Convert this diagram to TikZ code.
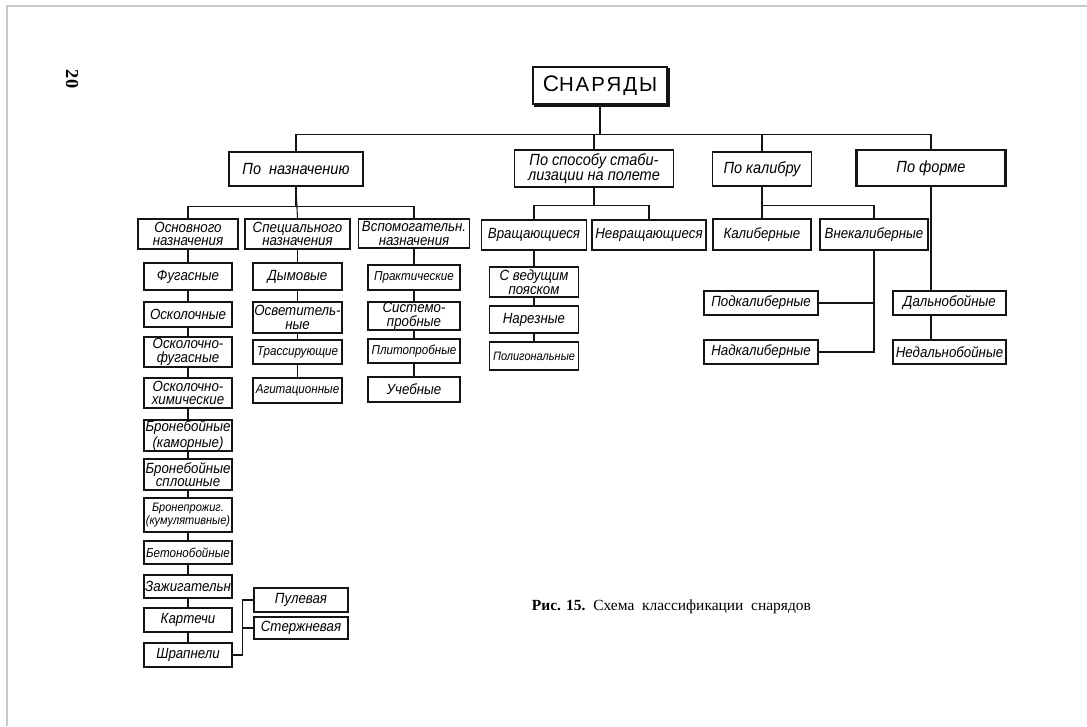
\documentclass[tikz,border=0pt]{standalone}
\usepackage{fontspec}
\setmainfont{Liberation Serif}
\newfontfamily\draftfont[FakeStretch=0.9]{Liberation Sans}
\newfontfamily\titlefont[LetterSpace=10]{Liberation Sans}
\usetikzlibrary{shadows}

\begin{document}
\begin{tikzpicture}[x=0.025cm,y=-0.025cm,
  box/.style 2 args={draw=inkcolor,line width=1.2pt,fill=white,inner sep=0.3pt,
    minimum width=#1*0.025cm,minimum height=#2*0.025cm,align=center,
    font=\draftfont\itshape\fontsize{10.5}{9.6}\selectfont},
  headbox/.style={font=\draftfont\itshape\fontsize{11.5}{10.8}\selectfont},
  smalltext/.style={font=\draftfont\itshape\fontsize{9.2}{9.6}\selectfont},
  tinytext/.style={font=\draftfont\itshape\fontsize{8.7}{9.4}\selectfont},
  link/.style={draw=inkcolor,line width=0.75pt}]
\definecolor{inkcolor}{RGB}{20,20,20}
\definecolor{framecolor}{RGB}{200,200,200}
\useasboundingbox (0,0) rectangle (1087,726);
\draw[framecolor,line width=1pt] (7,726) -- (7,6) -- (1087,6);
\node[rotate=-90,font=\bfseries\fontsize{13}{13}\selectfont] (pagenum) at (72,79) {20};
\node[box={134}{37},line width=1.5pt,copy shadow={shadow xshift=1.6pt,shadow yshift=-1.6pt},
  font=\titlefont\fontsize{16}{16}\selectfont] (snaryady) at (600,85.5) {С{\fontsize{14.5}{16}\selectfont НАРЯДЫ}};
\node[box={134}{34},headbox] (naznach) at (296,169) {По\ \ назначению};
\node[box={159}{37},headbox] (stabil) at (594,168.5) {По способу стаби-\\лизации на полете};
\node[box={99}{34},headbox] (kalibr) at (762,169) {По калибру};
\node[box={149}{36},headbox,line width=1.9pt] (forma) at (931,168) {По форме};
\node[box={100}{30}] (osnovn) at (188,234) {Основного\\назначения};
\node[box={105}{30}] (specn) at (297.5,234) {Специального\\назначения};
\node[box={111}{29}] (vspom) at (414,233.5) {Вспомогательн.\\назначения};
\node[box={88}{27}] (fugas) at (188,276.5) {Фугасные};
\node[box={88}{25}] (oskol) at (188,314.5) {Осколочные};
\node[box={88}{30}] (oskfug) at (188,352) {Осколочно-\\фугасные};
\node[box={88}{30}] (oskhim) at (188,393) {Осколочно-\\химические};
\node[box={88}{31}] (bronkam) at (188,435.5) {Бронебойные\\(каморные)};
\node[box={88}{31}] (bronspl) at (188,474.5) {Бронебойные\\сплошные};
\node[box={88}{34},tinytext] (bronkum) at (188,515) {Бронепрожиг.\\(кумулятивные)};
\node[box={88}{23},smalltext] (beton) at (188,552.5) {Бетонобойные};
\node[box={88}{23}] (zazhig) at (188,586.5) {Зажигательн};
\node[box={88}{24}] (kartech) at (188,620) {Картечи};
\node[box={88}{24}] (shrapn) at (188,655) {Шрапнели};
\node[box={94}{24}] (pulev) at (301,600) {Пулевая};
\node[box={94}{22}] (sterzh) at (301,628) {Стержневая};
\node[box={89}{27}] (dymov) at (297.5,276.5) {Дымовые};
\node[box={89}{31}] (osvet) at (297.5,317.5) {Осветитель-\\ные};
\node[box={89}{24},smalltext] (trass) at (297.5,352) {Трассирующие};
\node[box={89}{25},smalltext] (agitac) at (297.5,390.5) {Агитационные};
\node[box={92}{25},smalltext] (prakt) at (414,277.5) {Практические};
\node[box={92}{28}] (sistem) at (414,316) {Системо-\\пробные};
\node[box={92}{24},smalltext] (plitop) at (414,351) {Плитопробные};
\node[box={92}{25}] (ucheb) at (414,389.5) {Учебные};
\node[box={105}{30}] (vrashch) at (534,235) {Вращающиеся};
\node[box={114}{30}] (nevrashch) at (649,235) {Невращающиеся};
\node[box={89}{30}] (vedush) at (534,282) {С ведущим\\пояском};
\node[box={89}{27}] (narezn) at (534,319.5) {Нарезные};
\node[box={89}{28},tinytext] (poligon) at (534,356) {Полигональные};
\node[box={98}{31}] (kaliber) at (762,234.5) {Калиберные};
\node[box={108}{31}] (vnekal) at (874,234.5) {Внекалиберные};
\node[box={114}{24}] (podkal) at (761,303) {Подкалиберные};
\node[box={114}{24}] (nadkal) at (761,352) {Надкалиберные};
\node[box={113}{24}] (dalnob) at (949.5,303) {Дальнобойные};
\node[box={113}{24}] (nedalnob) at (949.5,352) {Недальнобойные};
\node[anchor=base west,font=\fontsize{11}{13}\selectfont] (caption) at (527,610) {\textbf{Рис. 15.}\ \ Схема\ \ классификации\ \ снарядов};
\draw[link] (snaryady.south) -- ++(0,29) -| (naznach.north);
\draw[link] (snaryady.south) -- ++(0,29) -| (stabil.north);
\draw[link] (snaryady.south) -- ++(0,29) -| (kalibr.north);
\draw[link] (snaryady.south) -- ++(0,29) -| (forma.north);
\draw[link] (naznach.south) -- ++(0,20) -| (osnovn.north);
\draw[link] (naznach.south) -- (specn.north);
\draw[link] (naznach.south) -- ++(0,20) -| (vspom.north);
\draw[link] (osnovn) -- (fugas);
\draw[link] (fugas) -- (oskol);
\draw[link] (oskol) -- (oskfug);
\draw[link] (oskfug) -- (oskhim);
\draw[link] (oskhim) -- (bronkam);
\draw[link] (bronkam) -- (bronspl);
\draw[link] (bronspl) -- (bronkum);
\draw[link] (bronkum) -- (beton);
\draw[link] (beton) -- (zazhig);
\draw[link] (zazhig) -- (kartech);
\draw[link] (kartech) -- (shrapn);
\draw[link] (shrapn.east) -- ++(10,0) |- (pulev.west);
\draw[link] (shrapn.east) -- ++(10,0) |- (sterzh.west);
\draw[link] (specn) -- (dymov);
\draw[link] (dymov) -- (osvet);
\draw[link] (osvet) -- (trass);
\draw[link] (trass) -- (agitac);
\draw[link] (vspom) -- (prakt);
\draw[link] (prakt) -- (sistem);
\draw[link] (sistem) -- (plitop);
\draw[link] (plitop) -- (ucheb);
\draw[link] (stabil.south) -- ++(0,18) -| (vrashch.north);
\draw[link] (stabil.south) -- ++(0,18) -| (nevrashch.north);
\draw[link] (vrashch) -- (vedush);
\draw[link] (vedush) -- (narezn);
\draw[link] (narezn) -- (poligon);
\draw[link] (kalibr) -- (kaliber);
\draw[link] (kalibr.south) -- ++(0,19) -| (vnekal.north);
\draw[link] (vnekal.south) |- (nadkal.east);
\draw[link] (podkal.east) -- (podkal.east -| vnekal.south);
\draw[link] (forma.south) -- (forma.south |- dalnob.north);
\draw[link] (forma.south |- dalnob.south) -- (forma.south |- nedalnob.north);
\end{tikzpicture}
\end{document}
